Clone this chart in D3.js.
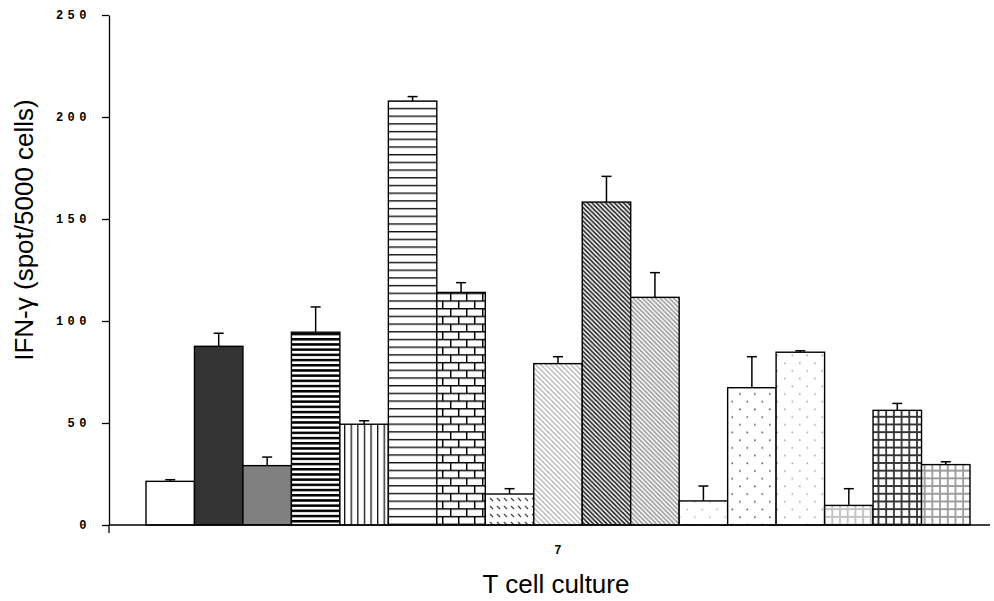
<!DOCTYPE html>
<html>

<head>
  <meta charset="utf8">
  <script src="https://d3js.org/d3.v7.min.js"></script>
  <style>
    body {
      margin: 0;
      background: #fff;
    }

    .tick text {
      font-family: "Liberation Mono", monospace;
      font-weight: bold;
      font-size: 12px;
      letter-spacing: 4.5px;
      fill: #000;
    }

    .title {
      font-family: "Liberation Sans", Arial, sans-serif;
      font-size: 26px;
      fill: #000;
    }
  </style>
</head>

<body>
  <svg id="chart" width="994" height="601"></svg>
  <script>
    var chart = d3.select('#chart');

    // data
    var categories = ["7"];
    var series = ["s1", "s2", "s3", "s4", "s5", "s6", "s7", "s8", "s9",
      "s10", "s11", "s12", "s13", "s14", "s15", "s16", "s17"];
    var means = [21.4, 87.6, 29.1, 94.5, 49.4, 207.8, 114, 15.2, 79.1,
      158.3, 111.6, 11.8, 67.3, 84.7, 9.6, 56.2, 29.6];
    var errors = [0.8, 6.4, 4.2, 12.4, 1.7, 2.2, 4.8, 2.6, 3.4,
      12.6, 12.1, 7.3, 15.2, 0.7, 8.2, 3.4, 1.4];
    var yTicks = [0, 50, 100, 150, 200, 250];

    var axisX = 109;
    var y = d3.scaleLinear().domain([0, 250]).range([525, 15]);
    var x0 = d3.scaleBand().domain(categories).range([146, 970]).padding(0);
    var x1 = d3.scaleBand().domain(series).range([0, x0.bandwidth()]).padding(0);

    // fill patterns
    var defs = chart.append('defs');

    function pat(id, w, h) {
      var p = defs.append('pattern')
        .attr('id', id)
        .attr('patternUnits', 'userSpaceOnUse')
        .attr('width', w)
        .attr('height', h);
      p.append('rect').attr('width', w).attr('height', h).attr('fill', '#fff');
      return p;
    }

    // thick horizontal stripes
    pat('p4', 8, 5.2).append('rect').attr('y', 0).attr('width', 8).attr('height', 2.5).attr('fill', '#000');
    // vertical lines
    pat('p5', 6.6, 8).append('rect').attr('x', 0).attr('width', 1.3).attr('height', 8).attr('fill', '#111');
    // thin horizontal lines
    pat('p6', 8, 7.7).append('rect').attr('y', 0).attr('width', 8).attr('height', 1.4).attr('fill', '#111');
    // brick
    var brick = pat('p7', 16, 15.4);
    brick.append('path')
      .attr('d', 'M0,0.7H16M0,8.4H16M0.7,0V7.7M8.7,7.7V15.4')
      .attr('stroke', '#000').attr('stroke-width', 1.5).attr('fill', 'none');
    // small diagonal dashes
    pat('p8', 7, 8).append('path')
      .attr('d', 'M1,2L4,5')
      .attr('stroke', '#444').attr('stroke-width', 1.3);

    function diag(id, p, color, sw) {
      pat(id, p, p).append('path')
        .attr('d', 'M0,0L' + p + ',' + p + 'M-1,' + (p - 1) + 'L1,' + (p + 1) + 'M' + (p - 1) + ',-1L' + (p + 1) + ',1')
        .attr('stroke', color).attr('stroke-width', sw).attr('fill', 'none');
    }
    diag('p9', 5, '#c4c4c4', 1.6);
    diag('p10', 4.5, '#222', 1.7);
    diag('p11', 4.5, '#999', 1.6);

    function dots(id, color) {
      var p = pat(id, 15, 15.4);
      [[0.5, 0.5], [8, 8.2]].forEach(function (c) {
        p.append('rect').attr('x', c[0]).attr('y', c[1]).attr('width', 1.6).attr('height', 1.6).attr('fill', color);
      });
    }
    dots('p12', '#bbb');
    dots('p13', '#555');
    dots('p14', '#aaa');

    function grid(id, color, sw) {
      pat(id, 7.7, 7.7).append('path')
        .attr('d', 'M0,1H7.7M1,0V7.7')
        .attr('stroke', color).attr('stroke-width', sw).attr('fill', 'none');
    }
    grid('p15', '#c4c4c4', 2);
    grid('p16', '#333', 1.8);
    grid('p17', '#9a9a9a', 1.8);

    var fills = ['#fff', '#333', '#808080', 'url(#p4)', 'url(#p5)', 'url(#p6)', 'url(#p7)',
      'url(#p8)', 'url(#p9)', 'url(#p10)', 'url(#p11)', 'url(#p12)', 'url(#p13)',
      'url(#p14)', 'url(#p15)', 'url(#p16)', 'url(#p17)'];

    var rows = series.map(function (s, i) {
      return { key: s, value: means[i], err: errors[i], fill: fills[i] };
    });

    var group = chart.selectAll('.group')
      .data(categories)
      .enter()
      .append('g')
      .attr('class', 'group')
      .attr('transform', function (d) { return 'translate(' + x0(d) + ',0)'; });

    group.selectAll('rect.bar')
      .data(rows)
      .enter()
      .append('rect')
      .attr('class', 'bar')
      .attr('x', function (d) { return x1(d.key); })
      .attr('y', function (d) { return y(d.value); })
      .attr('width', x1.bandwidth())
      .attr('height', function (d) { return y(0) - y(d.value); })
      .attr('fill', function (d) { return d.fill; })
      .attr('stroke', '#000')
      .attr('stroke-width', 1.4);

    // error bars (upper only)
    var eb = group.selectAll('g.err')
      .data(rows)
      .enter()
      .append('g')
      .attr('class', 'err')
      .attr('stroke', '#000')
      .attr('stroke-width', 1.5);

    eb.append('line')
      .attr('x1', function (d) { return x1(d.key) + x1.bandwidth() / 2; })
      .attr('x2', function (d) { return x1(d.key) + x1.bandwidth() / 2; })
      .attr('y1', function (d) { return y(d.value); })
      .attr('y2', function (d) { return y(d.value + d.err); });

    eb.append('line')
      .attr('x1', function (d) { return x1(d.key) + x1.bandwidth() / 2 - 5; })
      .attr('x2', function (d) { return x1(d.key) + x1.bandwidth() / 2 + 5; })
      .attr('y1', function (d) { return y(d.value + d.err); })
      .attr('y2', function (d) { return y(d.value + d.err); });

    // x axis
    chart.append('line')
      .attr('x1', axisX).attr('x2', 990)
      .attr('y1', y(0)).attr('y2', y(0))
      .attr('stroke', '#000').attr('stroke-width', 1.3);

    var xAxis = chart.append('g')
      .attr('transform', 'translate(0,' + y(0) + ')')
      .call(d3.axisBottom(x0).tickSize(0).tickPadding(20));
    xAxis.select('.domain').remove();
    xAxis.selectAll('.tick text').attr('dx', '2px');

    // y axis
    var yAxis = chart.append('g')
      .attr('transform', 'translate(' + axisX + ',0)')
      .call(d3.axisLeft(y).tickValues(yTicks).tickSize(7).tickSizeOuter(0).tickPadding(11));
    yAxis.select('.domain').attr('stroke-width', 1.3);
    yAxis.selectAll('.tick line').attr('stroke-width', 1.3);
    yAxis.append('line')
      .attr('x1', 0).attr('x2', 0).attr('y1', y(0)).attr('y2', y(0) + 8)
      .attr('stroke', '#000').attr('stroke-width', 1.3);

    // titles
    chart.append('text')
      .attr('class', 'title')
      .attr('text-anchor', 'middle')
      .attr('transform', 'translate(33,230) rotate(-90)')
      .text('IFN-γ (spot/5000 cells)');

    chart.append('text')
      .attr('class', 'title')
      .attr('text-anchor', 'middle')
      .attr('x', 556)
      .attr('y', 593)
      .text('T cell culture');
  </script>
</body>

</html>
